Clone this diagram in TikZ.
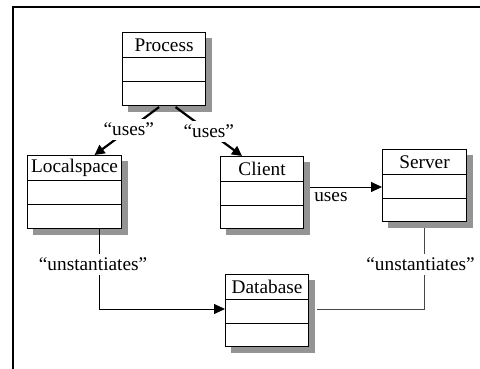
\documentclass[tikz,border=0pt]{standalone}
\usepackage{fontspec}
\setmainfont{Liberation Serif}
\usetikzlibrary{arrows.meta,calc}
\tikzset{
  x=1pt,y=1pt,
  classbox/.style={draw=black, line width=1.1pt, fill=white, rectangle, inner sep=0pt, anchor=north west},
  shadowfill/.style={fill=black!42, draw=none},
  divider/.style={draw=black, line width=0.9pt},
  usesline/.style={draw=black, line width=2.2pt, -{Triangle[length=10pt,width=10pt]}},
  thinarrow/.style={draw=black, line width=0.8pt, -{Triangle[length=11pt,width=10pt]}},
  grayline/.style={draw=black!72, line width=0.8pt},
  lbl/.style={fill=white, inner xsep=1.5pt, inner ysep=4pt, font=\fontsize{19.3}{23}\selectfont},
  ttl/.style={inner sep=0pt, font=\fontsize{19.3}{23}\selectfont},
  frameline/.style={draw=black, line width=1.4pt}
}
\newcommand\umlclass[6]{%
  \node[classbox, minimum width=#4pt, minimum height=#5pt] (#1) at (#2,-#3) {};
  \begin{pgfonlayer}{background}
    \fill[shadowfill] ($(#1.north west)+(6,-6)$) rectangle ($(#1.south east)+(6,-6)$);
  \end{pgfonlayer}
  \draw[divider] ($(#1.north west)+(0,-25.5)$) -- ($(#1.north east)+(0,-25.5)$);
  \draw[divider] ($(#1.north west)+(0,-49.5)$) -- ($(#1.north east)+(0,-49.5)$);
  \node[ttl] (#1t) at ($(#1.north)+(0,-13)$) {#6};
}
\pgfdeclarelayer{background}
\pgfsetlayers{background,main}
\begin{document}
\begin{tikzpicture}
\useasboundingbox (0,0) rectangle (480,-369);
\draw[frameline] (13,-369) coordinate (fbl) -- (13,-7) coordinate (ftl) -- (480,-7) coordinate (ftr);

\umlclass{process}{122}{32}{83}{73}{Process}
\umlclass{localspace}{27}{155}{94}{73}{Localspace}
\umlclass{client}{220}{156}{83}{72}{Client}
\umlclass{server}{382}{149}{84}{72}{Server}
\umlclass{database}{225}{274}{83}{72}{Database}

% uses arrows from Process
\draw[usesline] ($(process.south)+(-5,-1)$) -- node[lbl, pos=0.47] (u1) {“uses”} ($(localspace.north)+(20,0)$);
\draw[usesline] ($(process.south)+(11.5,-1)$) -- node[lbl, pos=0.5] (u2) {“uses”} ($(client.north)+(-20,0)$);

% Client uses Server
\coordinate (cs) at ($(client.north east)+(6,-31)$);
\draw[thinarrow] (cs) -- (cs -| server.west);
\node[ttl, anchor=north west] (usesl) at ($(cs)+(4,-5)$) {uses};

% Localspace instantiates Database
\coordinate (lsd) at ($(localspace.south)+(25,0)$);
\coordinate (dbl) at ($(database.north west)+(0,-35)$);
\draw[thinarrow] (lsd) -- (lsd |- dbl) -- (dbl);
\node[lbl] (inst1) at ($(lsd)+(-6.5,-35)$) {“unstantiates”};

% Server instantiates Database
\coordinate (ssd) at ($(server.south)+(0,-6)$);
\coordinate (dbr) at ($(database.north east)+(8,-35)$);
\draw[grayline] (ssd) -- (ssd |- dbr) -- (dbr);
\node[lbl] (inst2) at ($(ssd)+(-4,-36)$) {“unstantiates”};
\end{tikzpicture}
\end{document}
